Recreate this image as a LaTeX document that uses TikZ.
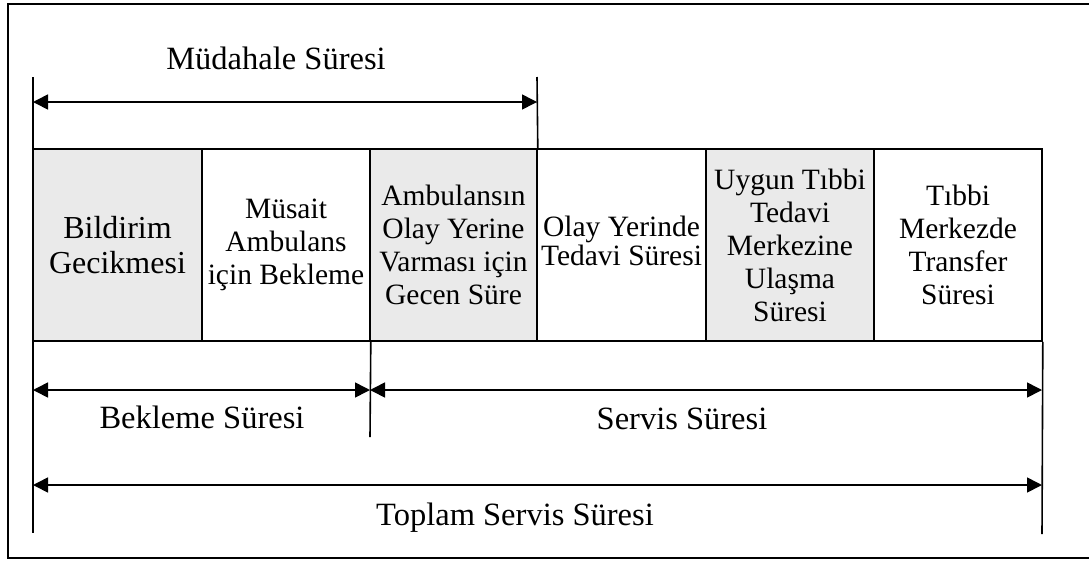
\documentclass[tikz,border=0pt]{standalone}
\usepackage{fontspec}
\setmainfont{Liberation Serif}
\usetikzlibrary{arrows.meta}
\definecolor{cellgray}{RGB}{234,234,234}
\begin{document}
\begin{tikzpicture}[x=1pt,y=-1pt,
  ln/.style={line width=1.6pt},
  cell/.style={draw, line width=1.6pt, minimum height=192pt, inner sep=0pt,
    align=center, font=\fontsize{29.5}{33}\selectfont},
  shaded/.style={fill=cellgray},
  dim/.style={line width=1.6pt,
    {Triangle[length=15pt,width=15pt]}-{Triangle[length=15pt,width=15pt]}},
  lbl/.style={font=\fontsize{32.5}{36}\selectfont, anchor=base, inner sep=0pt}]
\useasboundingbox (0,0) rectangle (1089,560);
\clip (0,0) rectangle (1089,560);
\draw[line width=2pt] (8,4) rectangle (1100,558);
% cells
\node[cell,shaded,minimum width=169pt,font=\fontsize{32}{35}\selectfont] (c1) at (117.5,245) {Bildirim\\Gecikmesi};
\node[cell,minimum width=168pt] (c2) at (286,245) {Müsait\\Ambulans\\için Bekleme};
\node[cell,shaded,minimum width=167pt] (c3) at (453.5,245) {Ambulansın\\Olay Yerine\\Varması için\\Gecen Süre};
\node[cell,minimum width=169pt,font=\fontsize{29.5}{31}\selectfont] (c4) at (621.5,245) {\raisebox{8pt}{\begin{tabular}{@{}c@{}}Olay Yerinde\\[-2pt]Tedavi Süresi\end{tabular}}};
\node[cell,shaded,minimum width=168pt] (c5) at (790,245) {Uygun Tıbbi\\Tedavi\\Merkezine\\Ulaşma\\Süresi};
\node[cell,minimum width=168pt] (c6) at (958,245) {Tıbbi\\Merkezde\\Transfer\\Süresi};
% vertical guide lines
\coordinate (tl) at (33,77);
\coordinate (bl) at (33,533);
\draw[ln] (tl) -- (bl);
\coordinate (mt) at (537,77);
\draw[ln] (mt) -- (c3.north east);
\coordinate (sb) at (370,437);
\draw[ln] (c2.south east) -- (sb);
\coordinate (rb) at (1042,534);
\draw[ln] (c6.south east) -- (rb);
% dimension arrows
\coordinate (m1) at (33,102);
\coordinate (m2) at (537,102);
\draw[dim] (m1) -- (m2);
\coordinate (b1) at (33,390);
\coordinate (b2) at (370,390);
\coordinate (s2) at (1042,390);
\draw[dim] (b1) -- (b2);
\draw[dim] (b2) -- (s2);
\coordinate (t1) at (33,485);
\coordinate (t2) at (1042,485);
\draw[dim] (t1) -- (t2);
% labels
\node[lbl] (mlab) at (276,69) {Müdahale Süresi};
\node[lbl] (blab) at (202,428) {Bekleme Süresi};
\node[lbl] (slab) at (682,429) {Servis Süresi};
\node[lbl] (tlab) at (515,525) {Toplam Servis Süresi};
\end{tikzpicture}
\end{document}
